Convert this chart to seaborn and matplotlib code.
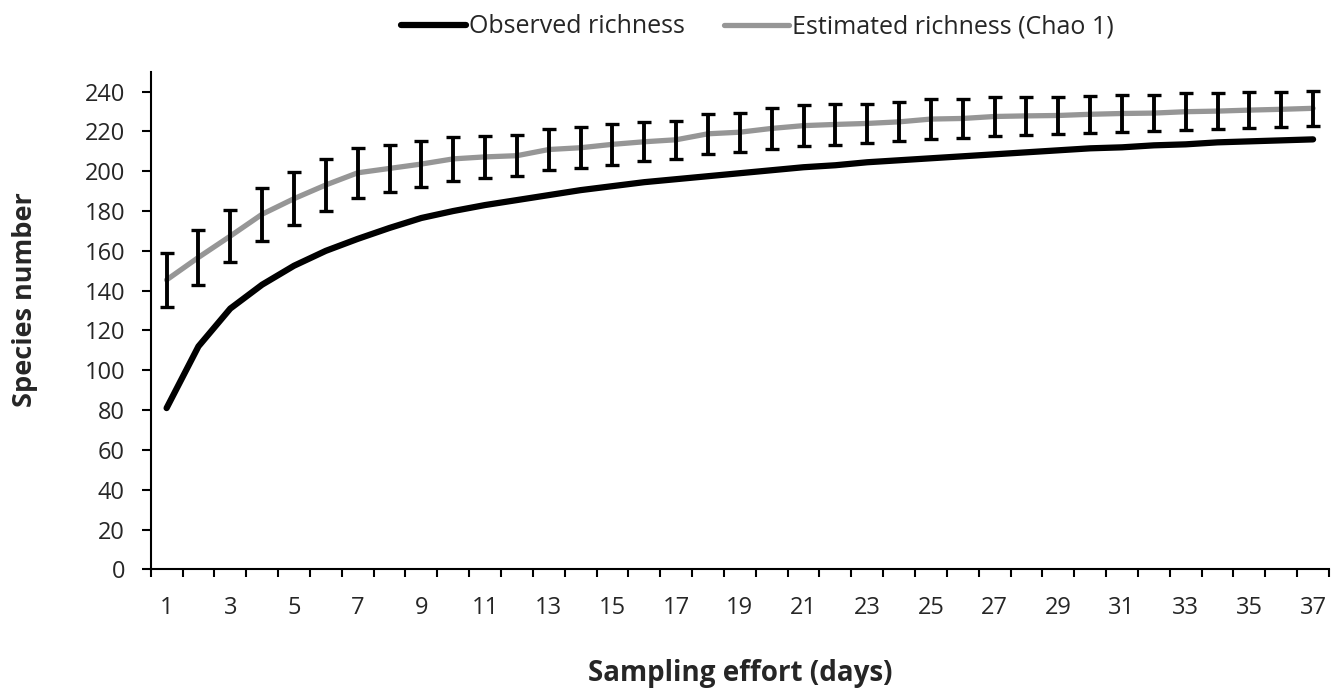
import numpy as np
import pandas as pd
import matplotlib
matplotlib.use("Agg")
import matplotlib.pyplot as plt
import seaborn as sns
from matplotlib.ticker import FixedLocator

# data
days = list(range(1, 38))
observed = [81, 112, 131, 143, 152.5, 160, 166, 171.5, 176.5, 180, 183, 185.5,
            188, 190.5, 192.5, 194.5, 196, 197.5, 199, 200.5, 202, 203, 204.5,
            205.5, 206.5, 207.5, 208.5, 209.5, 210.5, 211.5, 212, 213, 213.5,
            214.5, 215, 215.5, 216]
estimated = [145.4, 156.7, 167.4, 178.4, 186.2, 193.1, 199.2, 201.4, 203.6,
             206.2, 207.2, 207.8, 210.9, 211.8, 213.5, 214.8, 215.8, 218.8,
             219.6, 221.5, 222.9, 223.5, 224.0, 224.8, 226.2, 226.5, 227.5,
             227.8, 228.0, 228.6, 229.0, 229.2, 229.9, 230.2, 230.7, 231.1, 231.6]
est_err = [13.4, 13.9, 12.9, 13.3, 13.3, 13.1, 12.5, 11.9, 11.4, 11.2, 10.5,
           10.3, 10.3, 10.2, 10.2, 9.8, 9.6, 10.0, 9.8, 10.2, 10.4, 10.2, 9.8,
           9.8, 10.0, 9.8, 10.0, 9.7, 9.5, 9.4, 9.3, 9.2, 9.2, 9.0, 9.0, 8.9, 8.8]
x_labels = [str(d) for d in days if d % 2 == 1]
y_ticks = list(range(0, 241, 20))

df = pd.DataFrame({"day": days, "observed": observed,
                   "estimated": estimated, "err": est_err})

sns.set_style("ticks")
plt.rcParams['font.family'] = ['Open Sans', 'DejaVu Sans']

fig = plt.figure(figsize=(13.31, 6.88), dpi=100)
ax = fig.add_axes([0.1132, 0.1725, 0.8853, 0.7233])

GRAY = "#969696"

sns.lineplot(data=df, x="day", y="observed", ax=ax, color="black",
             linewidth=4.5, label="Observed richness",
             solid_capstyle="round", zorder=3)
sns.lineplot(data=df, x="day", y="estimated", ax=ax, color=GRAY,
             linewidth=3.8, label="Estimated richness (Chao 1)",
             solid_capstyle="round", zorder=2)
ax.errorbar(df["day"], df["estimated"], yerr=df["err"], fmt="none",
            ecolor="black", elinewidth=2.8, capsize=5, capthick=2.4,
            zorder=4)

ax.set_xlim(0.5, 37.5)
ax.set_ylim(0, 250)
ax.set_yticks(y_ticks)
ax.set_yticklabels([str(v) for v in y_ticks], fontsize=17)

# category-style x axis: labels on odd days, tick marks between days
ax.set_xticks([d for d in days if d % 2 == 1])
ax.set_xticklabels(x_labels, fontsize=17)
ax.xaxis.set_minor_locator(FixedLocator([d + 0.5 for d in [0] + days]))
ax.tick_params(axis="x", which="major", length=0, pad=19)
ax.tick_params(axis="x", which="minor", length=5.5, width=1.5,
               direction="out", color="black")
ax.tick_params(axis="y", which="major", length=6.5, width=1.5, pad=12,
               color="black")

sns.despine(ax=ax)
for side in ["left", "bottom"]:
    ax.spines[side].set_linewidth(1.5)
    ax.spines[side].set_color("black")

ax.set_xlabel("Sampling effort (days)", fontsize=20, fontweight="bold",
              va="baseline")
ax.xaxis.set_label_coords(0.5, -0.2245)
ax.set_ylabel("Species number", fontsize=19.5, fontweight="bold", va="center")
ax.yaxis.set_label_coords(-0.1067, 0.541)

ax.get_legend().remove()
handles, labels = ax.get_legend_handles_labels()
fig.legend(handles, labels, loc="center", bbox_to_anchor=(0.569, 0.961),
           ncol=2, frameon=False, fontsize=18, handlelength=2.6,
           handletextpad=0.1, columnspacing=1.6)

fig.savefig("out.png", dpi=100)
